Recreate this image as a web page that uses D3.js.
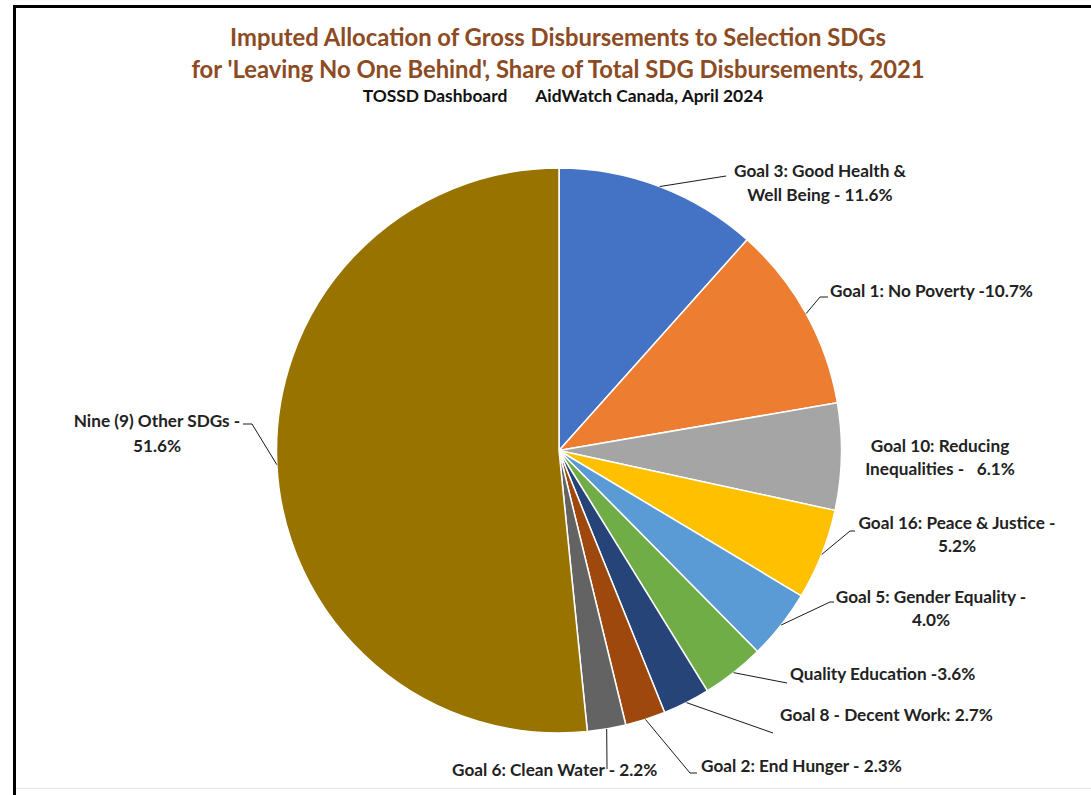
<!DOCTYPE html>
<html>
<head>
<meta charset="utf-8">
<script src="https://cdn.jsdelivr.net/npm/d3@7"></script>
<style>
  html, body { margin: 0; padding: 0; background: #fff; }
  svg text { font-family: Lato, "Open Sans", sans-serif; font-weight: 700; white-space: pre; }
</style>
</head>
<body>
<svg id="chart" width="1091" height="795"></svg>
<script>
// Share of total SDG disbursements, 2021 (percent), clockwise from 12 o'clock
const categories = [
  "Goal 3", "Goal 1", "Goal 10", "Goal 16", "Goal 5",
  "Goal 4", "Goal 8", "Goal 2", "Goal 6", "Other SDGs"
];
const shares = [11.6, 10.7, 6.1, 5.2, 4.0, 3.6, 2.7, 2.3, 2.2, 51.6];
// Label text; {v} is replaced by the slice share
const labelTemplates = [
  ["Goal 3: Good Health &", "Well Being - {v}%"],
  ["Goal 1: No Poverty -{v}%"],
  ["Goal 10: Reducing", "Inequalities -   {v}%"],
  ["Goal 16: Peace & Justice -", "{v}%"],
  ["Goal 5: Gender Equality -", "{v}%"],
  ["Quality Education -{v}%"],
  ["Goal 8 - Decent Work: {v}%"],
  ["Goal 2: End Hunger - {v}%"],
  ["Goal 6: Clean Water - {v}%"],
  ["Nine (9) Other SDGs -", "{v}%"]
];
const titleLines = [
  "Imputed Allocation of Gross Disbursements to Selection SDGs",
  "for 'Leaving No One Behind', Share of Total SDG Disbursements, 2021"
];
const subtitleParts = ["TOSSD Dashboard", "AidWatch Canada, April 2024"];

// Styling
const sliceColors = ["#4472C4", "#ED7D31", "#A5A5A5", "#FFC000", "#5B9BD5",
                     "#70AD47", "#264478", "#9E480E", "#636363", "#997300"];
const titleColor = "#8C4B23";
const labelColor = "#222222";
const labelSize = 17.2;

// Label placement: text anchor, baselines and leader-line waypoints
const labelLayout = [
  { x: 820, anchor: "middle", ys: [177, 201], leader: [[726, 176]] },
  { x: 830, anchor: "start",  ys: [297], leader: [[820, 297], [828, 297]] },
  { x: 940, anchor: "middle", ys: [452, 475], leader: null },
  { x: 957, anchor: "middle", ys: [529, 552], leader: [[850, 531], [855, 531]] },
  { x: 931, anchor: "middle", ys: [603, 626], leader: [[830, 602], [834, 602]] },
  { x: 790, anchor: "start",  ys: [680], leader: [[787, 683]] },
  { x: 780, anchor: "start",  ys: [721], leader: [[773, 733]] },
  { x: 701, anchor: "start",  ys: [772], leader: [[690, 773], [697, 773]] },
  { x: 452, anchor: "start",  ys: [776], leader: [[607, 769]] },
  { x: 157, anchor: "middle", ys: [427, 452], leader: [[252, 424], [243, 424]] }
];

const svg = d3.select("#chart");
const W = 1091, H = 795;

// Frame
svg.append("line").attr("x1", 14.5).attr("y1", 6).attr("x2", 14.5).attr("y2", H)
  .attr("stroke", "#000").attr("stroke-width", 3);
svg.append("line").attr("x1", 13).attr("y1", 6.5).attr("x2", W).attr("y2", 6.5)
  .attr("stroke", "#000").attr("stroke-width", 3);
svg.append("line").attr("x1", 16).attr("y1", 788.5).attr("x2", W).attr("y2", 788.5)
  .attr("stroke", "#e6e6e6").attr("stroke-width", 1);

// Titles
const titleG = svg.append("g").attr("text-anchor", "middle");
titleG.selectAll("text.title").data(titleLines).join("text")
  .attr("class", "title")
  .attr("x", 558)
  .attr("y", (d, i) => 46 + i * 32)
  .attr("font-size", 23.8)
  .attr("fill", titleColor)
  .text(d => d);
const sub = titleG.append("text")
  .attr("x", 563).attr("y", 102)
  .attr("font-size", 17.4)
  .attr("fill", "#111");
sub.append("tspan").text(subtitleParts[0]);
sub.append("tspan").attr("dx", 28).text(subtitleParts[1]);

// Pie
const cx = 559, cy = 450.5, radius = 282.5;
const pie = d3.pie().sort(null).value(d => d)(shares);
const arc = d3.arc().innerRadius(0).outerRadius(radius);
const edgeArc = d3.arc().innerRadius(radius).outerRadius(radius);

const g = svg.append("g").attr("transform", `translate(${cx},${cy})`);
g.selectAll("path.slice").data(pie).join("path")
  .attr("class", "slice")
  .attr("d", arc)
  .attr("fill", (d, i) => sliceColors[i])
  .attr("stroke", "#fff")
  .attr("stroke-width", 1.5)
  .attr("stroke-linejoin", "round");

// Leader lines from each slice's outer edge midpoint
const lineGen = d3.line();
pie.forEach((d, i) => {
  const lay = labelLayout[i];
  if (!lay.leader) return;
  const [ex, ey] = edgeArc.centroid(d);
  const pts = [[cx + ex, cy + ey]].concat(lay.leader);
  svg.append("path")
    .attr("d", lineGen(pts))
    .attr("fill", "none")
    .attr("stroke", "#1a1a1a")
    .attr("stroke-width", 1);
});

// Labels
const fmt = d3.format(".1f");
labelTemplates.forEach((lines, i) => {
  const lay = labelLayout[i];
  const t = svg.append("text")
    .attr("text-anchor", lay.anchor)
    .attr("font-size", labelSize)
    .attr("fill", labelColor);
  lines.forEach((ln, j) => {
    t.append("tspan")
      .attr("x", lay.x)
      .attr("y", lay.ys[j])
      .text(ln.replace("{v}", fmt(shares[i])));
  });
});
</script>
</body>
</html>
